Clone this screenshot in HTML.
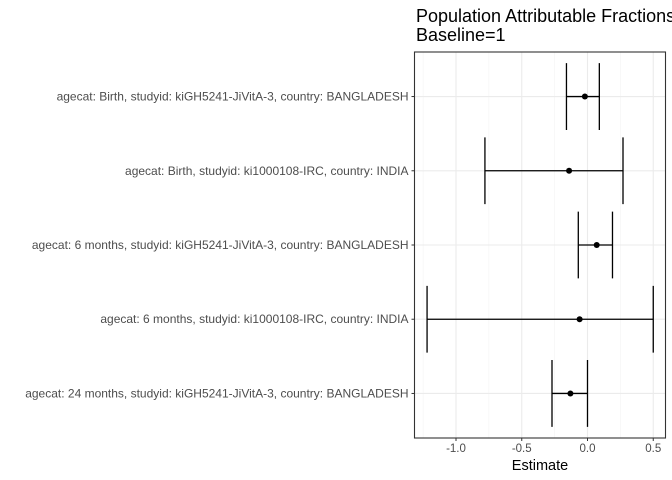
<!DOCTYPE html>
<html><head><meta charset="utf-8"><style>
body{margin:0;background:#fff}
svg{display:block;font-family:"Liberation Sans",sans-serif}
</style></head><body>
<svg id="c" width="672" height="480">
<text x="416" y="22" font-size="18" fill="#000">Population Attributable Fractions</text>
<text x="416" y="41" font-size="18" fill="#000">Baseline=1</text>
<text x="540" y="470" font-size="14.5" text-anchor="middle" fill="#000">Estimate</text>
</svg>
<script>
const categories=["agecat: Birth, studyid: kiGH5241-JiVitA-3, country: BANGLADESH","agecat: Birth, studyid: ki1000108-IRC, country: INDIA","agecat: 6 months, studyid: kiGH5241-JiVitA-3, country: BANGLADESH","agecat: 6 months, studyid: ki1000108-IRC, country: INDIA","agecat: 24 months, studyid: kiGH5241-JiVitA-3, country: BANGLADESH"];
const estimates=[-0.02,-0.14,0.07,-0.06,-0.13];
const lower=[-0.16,-0.78,-0.07,-1.22,-0.27];
const upper=[0.09,0.27,0.19,0.50,0.00];
const ticks=[-1.0,-0.5,0.0,0.5];
const tickLabels=["-1.0","-0.5","0.0","0.5"];
const svg=document.getElementById('c');
const NS='http://www.w3.org/2000/svg';
const L=414.5,R=665.5,T=52,B=438;
const x=v=>587.5+v*131.5;
const step=(B-T)/(categories.length-1+1.2);
const y=i=>T+step*0.6+i*step;
function mk(tag,a){const e=document.createElementNS(NS,tag);for(const k in a)e.setAttribute(k,a[k]);svg.appendChild(e);return e;}
const bg=mk('rect',{x:L,y:T,width:R-L,height:B-T,fill:'#fff'});


for(let i=0;i<ticks.length-1;i++){const m=(ticks[i]+ticks[i+1])/2;const g=mk('line',{x1:x(m),x2:x(m),y1:T,y2:B,stroke:'#f2f2f2','stroke-width':0.6});

}
[-1.25,0.75].forEach(m=>{if(x(m)>L&&x(m)<R){const g=mk('line',{x1:x(m),x2:x(m),y1:T,y2:B,stroke:'#f2f2f2','stroke-width':0.6});

}});
ticks.forEach((t,i)=>{const g=mk('line',{x1:x(t),x2:x(t),y1:T,y2:B,stroke:'#ebebeb','stroke-width':1.1});


const tk=mk('line',{x1:x(t),x2:x(t),y1:B,y2:B+3,stroke:'#333'});


const tl=mk('text',{x:x(t),y:B+14,'font-size':11.5,'text-anchor':'middle',fill:'#4d4d4d'});tl.textContent=tickLabels[i];

});
categories.forEach((c,i)=>{const yy=y(i);
const g=mk('line',{x1:L,x2:R,y1:yy,y2:yy,stroke:'#ebebeb','stroke-width':1.1});


const tk=mk('line',{x1:L-3,x2:L,y1:yy,y2:yy,stroke:'#333'});


const tl=mk('text',{x:L-6,y:yy+4,'font-size':12,'text-anchor':'end',fill:'#4d4d4d'});tl.textContent=c;


const h=step*0.45;
const eb=mk('path',{d:`M${x(lower[i])},${yy-h}V${yy+h}M${x(upper[i])},${yy-h}V${yy+h}M${x(lower[i])},${yy}H${x(upper[i])}`,stroke:'#000','stroke-width':1.3,fill:'none'});


const p=mk('circle',{cx:x(estimates[i]),cy:yy,r:3,fill:'#000'});

});
const br=mk('rect',{x:L,y:T,width:R-L,height:B-T,fill:'none',stroke:'#333','stroke-width':1.1});


</script>
</body></html>
